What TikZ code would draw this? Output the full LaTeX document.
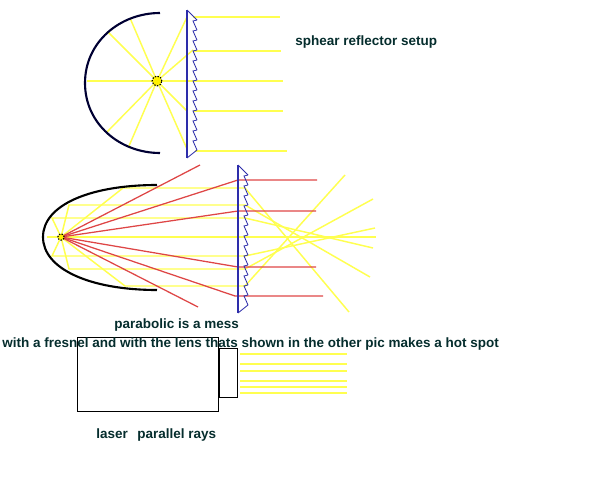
\documentclass[tikz,border=0pt]{standalone}
\usepackage{fontspec}
\setmainfont{Liberation Sans}
\definecolor{rayyellow}{RGB}{255,255,80}
\definecolor{rayred}{RGB}{222,70,70}
\definecolor{lensblue}{RGB}{45,45,170}
\definecolor{labelgreen}{RGB}{5,45,45}
\tikzset{
  yray/.style={rayyellow, line width=1.05pt},
  rray/.style={rayred, line width=0.9pt},
  reflector/.style={line width=1.5pt, black!80!blue},
  bulb/.style={circle, draw=black, line width=0.8pt, dash pattern=on 1pt off 1pt, fill=yellow, inner sep=0pt},
  caption/.style={anchor=base west, inner sep=0pt, text=labelgreen, font=\fontsize{9.6}{11}\bfseries\selectfont},
  fresnel/.pic={
    \draw[lensblue, line width=0.8pt] (0,0) -- (0,148);
    \draw[lensblue, line width=0.6pt] (0,0) -- (10,10);
    \foreach \t in {10,20,...,130}
      \draw[lensblue, line width=0.6pt] (10,\t) -- (6,\t+1) -- (10,\t+10);
    \draw[lensblue, line width=0.6pt] (10,140) -- (0,148);
  }
}
\begin{document}
\begin{tikzpicture}[x=0.025cm, y=-0.025cm]
\useasboundingbox (0,0) rectangle (600,500);
% sphere setup
\coordinate (focusa) at (157,81);
\foreach \px/\py in {87/81,108/32,130/18,107/132,129/146,187/17,193/50,283/81,187/111,187/149}
  \draw[yray] (focusa) -- (\px,\py);
\foreach \px/\py/\qx in {193/17/280,193/51/281,193/111/283,195/151/287}
  \draw[yray] (\px,\py) -- (\qx,\py);
\draw[reflector] (160,13) .. controls (120,13) and (85,42) .. (85,83) .. controls (85,124) and (120,153) .. (160,153);
\node[bulb, minimum size=7pt] (bulba) at (focusa) {};
\pic at (187,10) {fresnel};
% parabola setup
\coordinate (focusb) at (61,237);
\foreach \px/\py/\qx/\qy in {123/188/349/312,69/205/370/277,52/218/373/248,47/237/376/237,52/256/375/228,69/269/373/199,125/286/345/175}{
  \draw[yray] (focusb) -- (\px,\py) -- (245,\py) -- (\qx,\qy);
}
\foreach \px/\py/\qx in {238/180/317,238/211/316,238/267/316,235/296/323}
  \draw[rray] (focusb) -- (\px,\py) -- (\qx,\py);
\draw[rray] (focusb) -- (200,165);
\draw[rray] (focusb) -- (198,307);
\draw[reflector, black] (157,185) .. controls (90,185) and (43,205) .. (43,237) .. controls (43,269) and (90,290) .. (157,290);
\node[bulb, minimum size=4.5pt] (bulbb) at (focusb) {};
\pic at (238,165) {fresnel};
% laser
\foreach \py in {354,364,371,381,387,393}
  \draw[yray] (240,\py) -- (347,\py);
\node[draw=black, line width=0.75pt, minimum width=100pt, minimum height=52pt, inner sep=0pt] (laserbox) at (148,374.5) {};
\node[draw=black, line width=0.75pt, minimum width=12.8pt, minimum height=35.4pt, inner sep=0pt, anchor=west] (laserhead) at (laserbox.east |- 0,373) {};
% labels
\node[caption] (titlea) at (295,46) {sphear reflector setup};
\node[caption] (titleb) at (114,328) {parabolic is a mess};
\node[caption] (titlec) at (2,347) {with a fresnel and with the lens thats shown in the other pic makes a hot spot};
\node[caption] (titled) at (96,438) {laser};
\node[caption] (titlee) at (137,438) {parallel rays};
\end{tikzpicture}
\end{document}
